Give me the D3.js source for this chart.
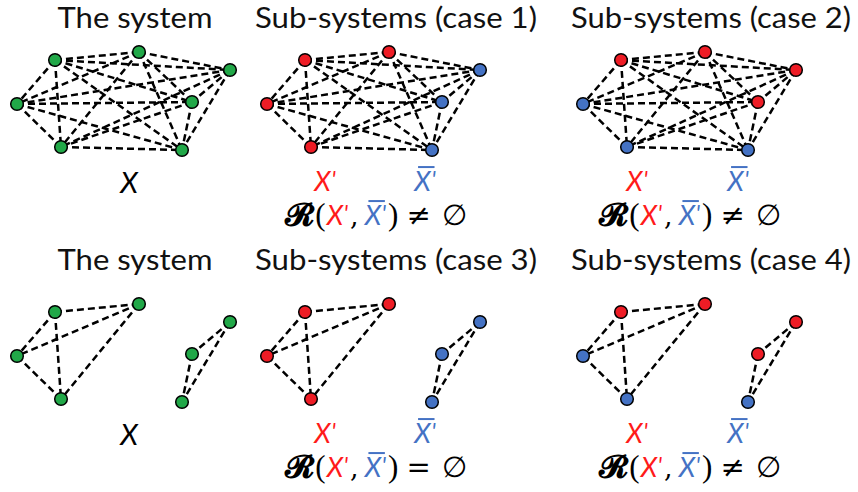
<!DOCTYPE html>
<html><head><meta charset="utf-8">
<script src="https://cdn.jsdelivr.net/npm/d3@7"></script>
<style>html,body{margin:0;padding:0;background:#fff;}</style>
</head><body>
<svg id="c" width="858" height="492"></svg>
<script>
// ---- data ----
const nodeIds = ["A","B","C","D","E","F","G"];
const nodeX = [55,139,230,17,192,61,182];
const nodeY = [60,52,70,104,102,147,150];
const colTitles = ["The system","Sub-systems (case 1)","Sub-systems (case 2)","The system","Sub-systems (case 3)","Sub-systems (case 4)"];
const panelColors = [
  ["g","g","g","g","g","g","g"],
  ["r","r","b","r","b","r","b"],
  ["r","r","r","b","r","b","b"],
  ["g","g","g","g","g","g","g"],
  ["r","r","b","r","b","r","b"],
  ["r","r","r","b","r","b","b"]
];
const groupsTop = [["A","B","C","D","E","F","G"]];
const groupsBottom = [["A","B","D","F"],["C","E","G"]];
const relations = [null,"≠","≠",null,"=","≠"];

// ---- layout ----
const colOffset = [0,250,566];
const rowOffset = [0,252];
const titleCx = [135,396,711];
const titleW = [155,282,280];
const redCx = [0,325,637], blueCx=[0,425,738], formCx=[0,376,690];
const fill = {g:"#21a848", r:"#ee1c25", b:"#4472c4"};
const RED="#ff1a1a", BLUE="#4472c4";

const svg = d3.select("#c");
function pairs(groups){
  const out=[];
  groups.forEach(g=>{for(let i=0;i<g.length;i++)for(let j=i+1;j<g.length;j++)out.push([g[i],g[j]]);});
  return out;
}

// sequence of text pieces laid out horizontally, centred at cx
function seq(g, cx, baseline, pieces){
  const grp = g.append("g");
  let x=0; const bars=[];
  pieces.forEach(p=>{
    x += (p.before||0);
    const t = grp.append("text").attr("x",x).attr("y",baseline+(p.dy||0))
      .attr("font-family",p.font).attr("font-size",p.size)
      .attr("font-style",p.italic?"italic":"normal")
      .attr("font-weight",p.bold?"bold":"normal")
      .attr("fill",p.color||"#000").text(p.t);
    const w = t.node().getComputedTextLength();
    if(p.bar) bars.push({x0:x+p.size*0.14,x1:x+w+p.size*0.14,y:baseline-p.size*0.72-4.5,color:p.color});
    x += w + (p.after||0);
  });
  bars.forEach(b=>grp.append("line").attr("x1",b.x0).attr("x2",b.x1).attr("y1",b.y).attr("y2",b.y)
    .attr("stroke",b.color).attr("stroke-width",2));
  grp.attr("transform",`translate(${cx-x/2},0)`);
}
const SANS="Lato, 'Open Sans', sans-serif";
const SERIF="'DejaVu Serif', serif";
function xPrime(color, bar, size){
  return [
    {t:"X", font:SANS, size:size, italic:true, color:color, bar:bar},
    {t:"'", font:SANS, size:size*0.85, italic:true, color:color, before:0.5, dy:-3}
  ];
}

colTitles.forEach((title,pi)=>{
  const row = Math.floor(pi/3), col = pi%3;
  const ox = colOffset[col], oy = rowOffset[row];
  const g = svg.append("g");
  const xs = d3.scaleLinear().domain([0,1]).range([ox,ox+1]);
  const ys = d3.scaleLinear().domain([0,1]).range([oy,oy+1]);
  const pos = {};
  nodeIds.forEach((id,i)=>pos[id]=[xs(nodeX[i]),ys(nodeY[i])]);
  const edges = pairs(row===0?groupsTop:groupsBottom);
  g.selectAll("line.e").data(edges).join("line").attr("class","e")
    .attr("x1",d=>pos[d[0]][0]).attr("y1",d=>pos[d[0]][1])
    .attr("x2",d=>pos[d[1]][0]).attr("y2",d=>pos[d[1]][1])
    .attr("stroke","#000").attr("stroke-width",2.5).attr("stroke-dasharray","7,4");
  g.selectAll("circle").data(nodeIds).join("circle")
    .attr("cx",d=>pos[d][0]).attr("cy",d=>pos[d][1]).attr("r",6.3)
    .attr("fill",(d,i)=>fill[panelColors[pi][i]]).attr("stroke","#000").attr("stroke-width",1.5);
  // title
  g.append("text").attr("x",titleCx[col]).attr("y",row?270:27.5).attr("text-anchor","middle")
    .attr("font-family",SANS).attr("font-size",28).attr("fill","#111")
    .attr("textLength",titleW[col]).attr("lengthAdjust","spacingAndGlyphs").text(title);
  if(col===0){
    g.append("text").attr("x",129).attr("y",193+oy).attr("text-anchor","middle")
      .attr("font-family",SANS).attr("font-style","italic").attr("font-size",29).attr("fill","#000").text("X");
  } else {
    seq(g, redCx[col], 191+oy, xPrime(RED,false,27));
    seq(g, blueCx[col], 191+oy, xPrime(BLUE,true,27));
    const fp = [{t:"𝓡", font:SERIF, size:31, bold:true, after:1},
      {t:"(", font:"'Liberation Serif', serif", size:31, after:1}]
      .concat(xPrime(RED,false,27))
      .concat([{t:",", font:SERIF, size:27, before:2, after:6}])
      .concat(xPrime(BLUE,true,27))
      .concat([{t:")", font:"'Liberation Serif', serif", size:31, before:2},
        {t:relations[pi], font:SERIF, size:29, before:8, after:11},
        {t:"∅", font:SERIF, size:29}]);
    seq(g, formCx[col], 225+oy, fp);
  }
});
</script>
</body></html>
